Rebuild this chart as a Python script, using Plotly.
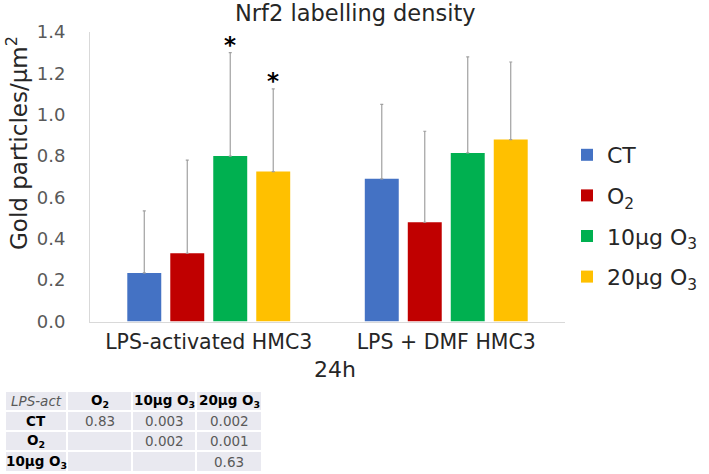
import plotly.graph_objects as go

W, H = 709, 474

categories = ["LPS-activated HMC3", "LPS + DMF HMC3"]
series_names = ["CT", "O<sub>2</sub>", "10µg O<sub>3</sub>", "20µg O<sub>3</sub>"]
series_colors = ["#4472C4", "#C00000", "#00B050", "#FFC000"]
means = [
    [0.235, 0.69],   # CT
    [0.33, 0.48],    # O2
    [0.80, 0.815],   # 10ug O3
    [0.725, 0.88],   # 20ug O3
]
errors = [
    [0.30, 0.36],
    [0.45, 0.44],
    [0.50, 0.465],
    [0.40, 0.375],
]
# significance stars: (series index, category index)
stars = [(2, 0), (3, 0)]

y_ticks = [0.0, 0.2, 0.4, 0.6, 0.8, 1.0, 1.2, 1.4]

table_header = ["<i>LPS-act</i>", "<b>O<sub>2</sub></b>", "<b>10µg O<sub>3</sub></b>", "<b>20µg O<sub>3</sub></b>"]
table_row_labels = ["<b>CT</b>", "<b>O<sub>2</sub></b>", "<b>10µg O<sub>3</sub></b>"]
table_values = [
    ["0.83", "0.003", "0.002"],
    ["", "0.002", "0.001"],
    ["", "", "0.63"],
]

FONT = "DejaVu Sans"

def px(x):
    return x / W

def py(y):
    return 1 - y / H

fig = go.Figure()
for i, name in enumerate(series_names):
    fig.add_trace(go.Bar(
        x=categories, y=means[i], name=name,
        marker=dict(color=series_colors[i], line=dict(width=0)),
        legendgroup=f"g{i}",
        error_y=dict(type="data", symmetric=False, array=errors[i],
                     arrayminus=[0] * len(errors[i]),
                     color="#A0A0A0", thickness=1.2, width=1.5),
    ))

n = len(series_names)
bargap = 0.276
groupgap = 0.21
slot = (1 - bargap) / n
annotations = []
for s, c in stars:
    offset = -(1 - bargap) / 2 + slot * (s + 0.5)
    annotations.append(dict(
        x=c + offset, y=means[s][c] + errors[s][c], xref="x", yref="y",
        text="<b>*</b>", showarrow=False, xanchor="center", yanchor="bottom",
        yshift=-7, font=dict(size=23, color="#000000", family=FONT)))

annotations.append(dict(
    x=px(17), y=py(143), xref="paper", yref="paper", xanchor="center", yanchor="middle",
    text="Gold particles/µm<sup>2</sup>", textangle=-90, showarrow=False,
    font=dict(size=23, color="#262626", family=FONT)))

annotations.append(dict(
    x=px(335), y=py(369), xref="paper", yref="paper", xanchor="center", yanchor="middle",
    text="24h", showarrow=False, font=dict(size=22, color="#262626", family=FONT)))

annotations.append(dict(
    x=px(355), y=py(13), xref="paper", yref="paper", xanchor="center", yanchor="middle",
    text="Nrf2 labelling density", showarrow=False,
    font=dict(size=22.5, color="#262626", family=FONT)))

col_edges = [5, 67, 132, 196, 262]
row_edges = [391, 411, 431, 451, 472]
shapes = []
grid = [table_header] + [[table_row_labels[r]] + table_values[r] for r in range(len(table_row_labels))]
for r in range(len(row_edges) - 1):
    for c in range(len(col_edges) - 1):
        shapes.append(dict(type="rect", xref="paper", yref="paper",
                           x0=px(col_edges[c]), x1=px(col_edges[c + 1]),
                           y0=py(row_edges[r + 1]), y1=py(row_edges[r]),
                           fillcolor="#E9E9F0", line=dict(color="#FFFFFF", width=2),
                           layer="below"))
        txt = grid[r][c]
        if txt:
            is_value = r > 0 and c > 0
            color = "#595959" if (is_value or r == 0 and c == 0) else "#000000"
            annotations.append(dict(
                x=px((col_edges[c] + col_edges[c + 1]) / 2),
                y=py((row_edges[r] + row_edges[r + 1]) / 2),
                xref="paper", yref="paper", xanchor="center", yanchor="middle",
                text=txt, showarrow=False,
                font=dict(size=13.5, color=color, family=FONT)))

fig.update_layout(
    width=W, height=H,
    margin=dict(l=0, r=0, t=0, b=0, pad=0, autoexpand=False),
    paper_bgcolor="#FFFFFF", plot_bgcolor="#FFFFFF",
    barmode="group", bargap=bargap, bargroupgap=groupgap,
    font=dict(family=FONT, color="#262626"),
    showlegend=True,
    legend=dict(x=px(567), y=py(134), xanchor="left", yanchor="top",
                font=dict(size=22, color="#262626", family=FONT),
                tracegroupgap=9, bgcolor="rgba(0,0,0,0)"),
    xaxis=dict(domain=[px(90), px(565)], showline=True, linecolor="#D9D9D9",
               linewidth=1, showgrid=False, ticks="outside", ticklen=2,
               tickcolor="rgba(0,0,0,0)", automargin=False,
               tickfont=dict(size=20.5, color="#262626", family=FONT)),
    yaxis=dict(domain=[py(321.5), py(32)], range=[0, 1.4], tickvals=y_ticks,
               tickformat=".1f", showline=True, linecolor="#D9D9D9", linewidth=1,
               showgrid=False, zeroline=False, ticks="outside", ticklen=20,
               tickcolor="rgba(0,0,0,0)", automargin=False,
               tickfont=dict(size=18, color="#595959", family=FONT)),
    annotations=annotations,
    shapes=shapes,
)

fig.write_html("out.html", post_script="document.body.style.margin='0';",
               config={"displayModeBar": False})
